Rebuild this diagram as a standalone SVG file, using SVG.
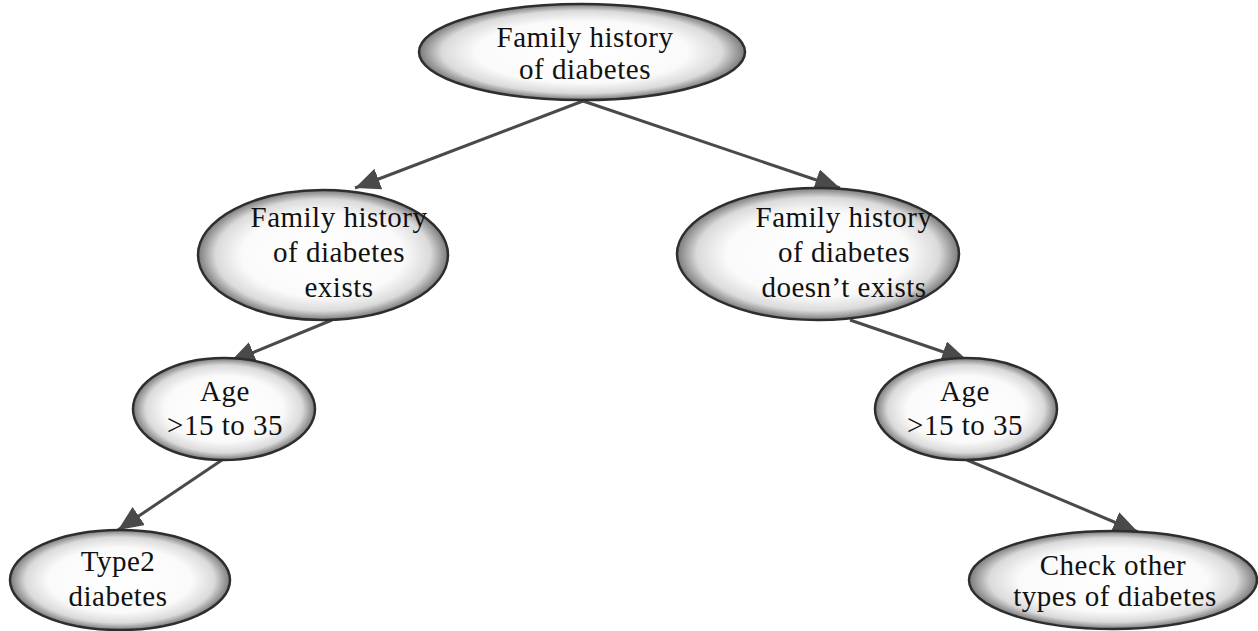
<svg xmlns="http://www.w3.org/2000/svg" width="1258" height="631" viewBox="0 0 1258 631">
<style>
.node ellipse{fill:url(#g);stroke:#2e2e2e;stroke-width:2.5}
.node text{font-family:"Liberation Serif","Times New Roman",serif;font-size:29px;fill:#111;text-anchor:middle;letter-spacing:0.5px}
.edge{stroke:#4a4a4a;stroke-width:3;fill:none;marker-end:url(#arr)}
</style>
<defs>
<radialGradient id="g" cx="50%" cy="50%" r="50%">
<stop offset="0" stop-color="#ffffff"/>
<stop offset="0.65" stop-color="#fafafa"/>
<stop offset="0.86" stop-color="#dadada"/>
<stop offset="1" stop-color="#7a7a7a"/>
</radialGradient>
<marker id="arr" markerUnits="userSpaceOnUse" markerWidth="28" markerHeight="24" refX="25" refY="11" orient="auto">
<path d="M0,0 L25,11 L0,22 Z" fill="#4a4a4a"/>
</marker>
</defs>
<rect width="1258" height="631" fill="#fff"/>
<g id="connectors">
<line class="edge" x1="583" y1="101" x2="355" y2="188"/>
<line class="edge" x1="583" y1="101" x2="840" y2="188"/>
<line class="edge" x1="332" y1="320" x2="230" y2="362"/>
<line class="edge" x1="850" y1="320" x2="967" y2="360"/>
<line class="edge" x1="222" y1="460" x2="118" y2="530"/>
<line class="edge" x1="967" y1="460" x2="1138" y2="532"/>
</g>
<g id="root" class="node">
<ellipse cx="582" cy="52" rx="163" ry="48"/>
<text x="585" y="47">Family history</text>
<text x="585" y="79">of diabetes</text>
</g>
<g id="exists" class="node">
<ellipse cx="323" cy="255" rx="125" ry="65"/>
<text x="339" y="227">Family history</text>
<text x="339" y="262">of diabetes</text>
<text x="339" y="297">exists</text>
</g>
<g id="notexists" class="node">
<ellipse cx="818" cy="254" rx="141" ry="66"/>
<text x="844" y="227">Family history</text>
<text x="844" y="262">of diabetes</text>
<text x="844" y="297">doesn’t exists</text>
</g>
<g id="ageLeft" class="node">
<ellipse cx="224" cy="409" rx="91" ry="51"/>
<text x="225" y="401">Age</text>
<text x="225" y="435">&gt;15 to 35</text>
</g>
<g id="ageRight" class="node">
<ellipse cx="966" cy="409" rx="91" ry="51"/>
<text x="965" y="401">Age</text>
<text x="965" y="435">&gt;15 to 35</text>
</g>
<g id="type2" class="node">
<ellipse cx="120" cy="580" rx="110" ry="50"/>
<text x="118" y="571">Type2</text>
<text x="118" y="606">diabetes</text>
</g>
<g id="other" class="node">
<ellipse cx="1113" cy="580" rx="144" ry="49"/>
<text x="1113" y="575">Check other</text>
<text x="1115" y="606">types of diabetes</text>
</g>
</svg>
